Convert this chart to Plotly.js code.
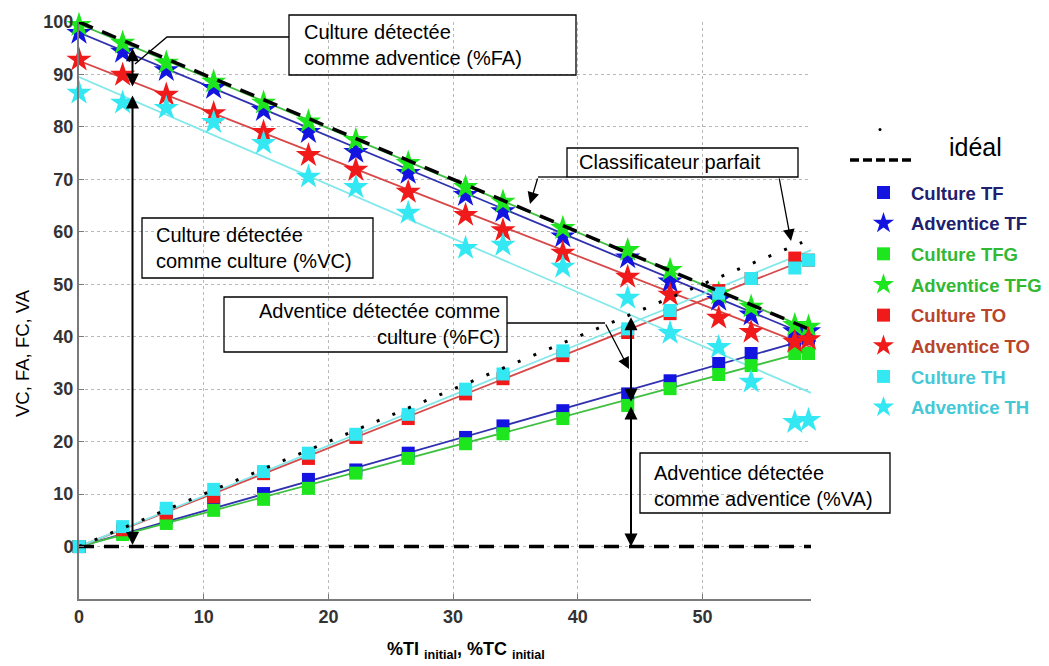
<!DOCTYPE html>
<html>
<head>
<meta charset="utf-8">
<script src="https://cdn.plot.ly/plotly-3.0.1.min.js"></script>
<style>html,body{margin:0;padding:0;background:#fff;}#chart{width:1049px;height:666px;}</style>
</head>
<body>
<div id="chart"></div>
<script>
// ---- data ----
const tiInitial    = [0, 3.5, 7, 10.8, 14.8, 18.4, 22.2, 26.4, 31, 34, 38.8, 44, 47.4, 51.3, 53.9, 57.4, 58.5];
const cultureTF    = [0, 2.8, 5.5, 8.6, 10.1, 12.8, 14.6, 17.8, 20.8, 23.0, 25.9, 29.1, 31.6, 34.9, 36.8, 39.3, 39.7];
const adventiceTF  = [97.9, 94.3, 90.8, 87.4, 83.2, 79.0, 75.2, 71.2, 67.0, 63.9, 59.1, 55.1, 50.5, 47.0, 44.2, 41.0, 41.0];
const cultureTFG   = [0, 2.3, 4.4, 6.9, 9.0, 11.1, 14.0, 16.8, 19.6, 21.5, 24.4, 26.9, 30.1, 32.8, 34.5, 36.8, 36.8];
const adventiceTFG = [99.4, 96.0, 92.2, 88.6, 84.6, 81.0, 77.5, 73.1, 68.5, 65.7, 60.7, 56.5, 52.7, 48.2, 45.7, 42.2, 41.9];
const cultureTO    = [0, 3.2, 6.4, 9.5, 13.9, 16.8, 20.8, 24.4, 29.1, 32.0, 36.4, 40.8, 44.4, 48.8, 51.1, 55.0, 54.6];
const adventiceTO  = [92.8, 89.9, 86.1, 82.6, 79.0, 74.6, 71.8, 67.6, 63.2, 60.3, 56.0, 51.4, 48.0, 43.6, 40.9, 39.0, 39.5];
const cultureTH    = [0, 3.8, 7.3, 10.9, 14.3, 17.8, 21.4, 25.2, 30.0, 32.9, 37.3, 41.5, 45.0, 48.3, 51.1, 53.1, 54.6];
const adventiceTH  = [86.5, 84.6, 83.6, 80.9, 76.9, 70.5, 68.5, 63.6, 56.9, 57.5, 53.3, 47.4, 40.7, 38.0, 31.4, 23.7, 24.1];

// fitted straight lines (end points)
const fitX            = [0, 58.7];
const fitCultureTF    = [0, 39.7];
const fitAdventiceTF  = [98.0, 40.0];
const fitCultureTFG   = [0, 37.4];
const fitAdventiceTFG = [99.6, 41.3];
const fitCultureTO    = [0, 55.1];
const fitAdventiceTO  = [92.6, 38.0];
const fitCultureTH    = [0, 56.5];
const fitAdventiceTH  = [89.5, 29.3];

// ideal classifier lines
const idealX         = [0, 58.5];
const idealAdventice = [100, 41.5];
const idealZeroX     = [0, 58.7];
const idealZero      = [0, 0];
const idealCultX     = [0, 58];
const idealCulture   = [0, 58];

const xTicks = [0, 10, 20, 30, 40, 50];
const yTicks = [0, 10, 20, 30, 40, 50, 60, 70, 80, 90, 100];

// ---- geometry helpers ----
const W = 1049, H = 666;
const PL = 79, PR = 811, PT = 22, PB = 599;
const XMIN = 0, XMAX = 58.7, YMIN = -10, YMAX = 100;
const PX = x => (x - PL) / (PR - PL);
const PY = y => (PB - y) / (PB - PT);
const DX = x => XMIN + (x - PL) / (PR - PL) * (XMAX - XMIN);
const DY = y => YMIN + (PB - y) / (PB - PT) * (YMAX - YMIN);

const FONT = 'Liberation Sans, Arial, sans-serif';
const C = {
  blue:  {m: '#1414e0', l: '#3030b0', t: '#20206e'},
  green: {m: '#1ee61e', l: '#40c040', t: '#33b833'},
  red:   {m: '#f01a1a', l: '#d84848', t: '#b8452a'},
  cyan:  {m: '#33e8f2', l: '#84e8ea', t: '#45c8d5'}
};

const traces = [];
function fitLine(y, col) {
  traces.push({x: fitX, y: y, mode: 'lines', line: {color: col, width: 1.8},
    showlegend: false, hoverinfo: 'skip'});
}
fitLine(fitCultureTF, C.blue.l);  fitLine(fitAdventiceTF, C.blue.l);
fitLine(fitCultureTFG, C.green.l); fitLine(fitAdventiceTFG, C.green.l);
fitLine(fitCultureTO, C.red.l);   fitLine(fitAdventiceTO, C.red.l);
fitLine(fitCultureTH, C.cyan.l);  fitLine(fitAdventiceTH, C.cyan.l);

function pts(name, y, col, sym) {
  traces.push({x: tiInitial, y: y, mode: 'markers', cliponaxis: false,
    name: '<span style="color:' + col.t + '"><b>' + name + '</b></span>',
    legendgroup: name,
    marker: {symbol: sym, size: sym === 'star' ? 19 : 13, color: col.m, line: {width: 0}}});
}
pts('Culture TF', cultureTF, C.blue, 'square');
pts('Adventice TF', adventiceTF, C.blue, 'star');
pts('Culture TFG', cultureTFG, C.green, 'square');
pts('Adventice TFG', adventiceTFG, C.green, 'star');
pts('Culture TO', cultureTO, C.red, 'square');
pts('Adventice TO', adventiceTO, C.red, 'star');
pts('Culture TH', cultureTH, C.cyan, 'square');
pts('Adventice TH', adventiceTH, C.cyan, 'star');

traces.push({x: idealX, y: idealAdventice, mode: 'lines', showlegend: false, cliponaxis: false,
  line: {color: '#000', width: 3.5, dash: '15px,10px'}});
traces.push({x: idealZeroX, y: idealZero, mode: 'lines', showlegend: false, cliponaxis: false,
  line: {color: '#000', width: 3.5, dash: '15px,10px'}});
traces.push({x: idealCultX, y: idealCulture, mode: 'lines', showlegend: false,
  line: {color: '#000', width: 3, dash: '3px,14px'}});

// ---- shapes: text boxes, connector lines, legend "idéal" sample ----
function rect(x0, y0, x1, y1) {
  return {type: 'rect', xref: 'paper', yref: 'paper', x0: PX(x0), x1: PX(x1), y0: PY(y1), y1: PY(y0),
    line: {color: '#000', width: 1.3}, fillcolor: 'rgba(0,0,0,0)', layer: 'above'};
}
function path(ptsArr) {
  const d = ptsArr.map((p, i) => (i ? 'L' : 'M') + PX(p[0]).toFixed(5) + ',' + PY(p[1]).toFixed(5)).join(' ');
  return {type: 'path', xref: 'paper', yref: 'paper', path: d, line: {color: '#000', width: 1.3}, layer: 'above'};
}
const shapes = [
  rect(289, 15, 576, 75),
  rect(142, 218, 373, 278),
  rect(567, 148, 798, 177),
  rect(224, 297, 507, 352),
  rect(640, 453, 890, 513),
  path([[289, 37], [167, 37], [135, 64]]),
  path([[567, 177], [538, 177]]),
  path([[507, 323], [605, 323]]),
  // legend sample for "idéal"
  {type: 'line', xref: 'paper', yref: 'paper', x0: PX(850), x1: PX(915), y0: PY(160), y1: PY(160),
   line: {color: '#000', width: 3.5, dash: '9px,4px'}},
  {type: 'circle', xref: 'paper', yref: 'paper', x0: PX(878.5), x1: PX(881.5), y0: PY(131), y1: PY(128),
   fillcolor: '#000', line: {color: '#000', width: 0}}
];

// ---- annotations ----
const ann = [];
function label(text, x, y, xa, align, size) {
  ann.push({text: text, xref: 'paper', yref: 'paper', x: PX(x), y: PY(y), xanchor: xa, yanchor: 'middle',
    align: align, showarrow: false, font: {family: FONT, size: size || 20, color: '#000'}});
}
label('Culture détectée<br>comme adventice (%FA)', 302, 45, 'left', 'left');
label('Culture détectée<br>comme culture (%VC)', 154, 248, 'left', 'left');
label('Classificateur parfait', 577, 162, 'left', 'left');
label('Adventice détectée comme<br>culture (%FC)', 502, 324, 'right', 'right');
label('Adventice détectée<br>comme adventice (%VA)', 652, 486, 'left', 'left');
label('idéal', 947, 147, 'left', 'left', 25);

function arrow(x1, y1, x2, y2, both, w, s) {
  ann.push({text: '', xref: 'x', yref: 'y', axref: 'x', ayref: 'y', x: x2, y: y2, ax: x1, ay: y1,
    showarrow: true, arrowhead: 2, startarrowhead: 2, arrowside: both ? 'end+start' : 'end',
    arrowsize: s || 1.3, startarrowsize: s || 1.3, arrowwidth: w || 2, arrowcolor: '#000', standoff: 0, startstandoff: 0});
}
const xa1 = DX(132.5), xa2 = DX(631);
arrow(xa1, 87.4, xa1, 95.0, true);
arrow(xa1, 0, xa1, 86.0, true);
arrow(xa2, 27.3, xa2, 43.7, true);
arrow(xa2, 27.0, xa2, 0, true);
arrow(DX(538), DY(177), DX(530), DY(204), false, 1.3, 1.8);
arrow(DX(779), DY(177), DX(791), DY(241), false, 1.3, 1.8);
arrow(DX(605), DY(323), DX(629), DY(369), false, 1.3, 1.8);

// axis titles
ann.push({text: 'VC, FA, FC, VA', xref: 'paper', yref: 'paper', x: PX(22), y: PY(353), textangle: -90,
  xanchor: 'center', yanchor: 'middle', showarrow: false, font: {family: FONT, size: 18.5, color: '#000'}});
ann.push({text: '<b>%TI <sub>initial</sub>, %TC <sub>initial</sub></b>', xref: 'paper', yref: 'paper',
  x: PX(466), y: PY(650), xanchor: 'center', yanchor: 'middle', showarrow: false,
  font: {family: FONT, size: 18, color: '#000'}});

const axisCommon = {
  showline: true, linecolor: '#7a7a7a', linewidth: 2, mirror: false,
  ticks: 'inside', ticklen: 5, tickcolor: '#7a7a7a', tickwidth: 1,
  showgrid: true, gridcolor: '#b8b8b8', griddash: 'dot', gridwidth: 1,
  zeroline: false, tickfont: {family: FONT, size: 18, color: '#333', weight: 'bold'}
};

const layout = {
  width: W, height: H,
  margin: {l: PL, r: W - PR, t: PT, b: H - PB, pad: 0, autoexpand: false},
  paper_bgcolor: '#fff', plot_bgcolor: '#fff',
  showlegend: true,
  legend: {x: PX(856), y: PY(174), xanchor: 'left', yanchor: 'top', bgcolor: 'rgba(0,0,0,0)',
    font: {family: FONT, size: 18.5}, traceorder: 'grouped', tracegroupgap: 3.6, itemsizing: 'trace',
    itemwidth: 45},
  xaxis: Object.assign({}, axisCommon, {range: [XMIN, XMAX], tickvals: xTicks, ticktext: xTicks.map(String)}),
  yaxis: Object.assign({}, axisCommon, {range: [YMIN, YMAX], tickvals: yTicks, ticktext: yTicks.map(String)}),
  shapes: shapes,
  annotations: ann
};

Plotly.newPlot('chart', traces, layout, {displayModeBar: false, staticPlot: true});
</script>
</body>
</html>
